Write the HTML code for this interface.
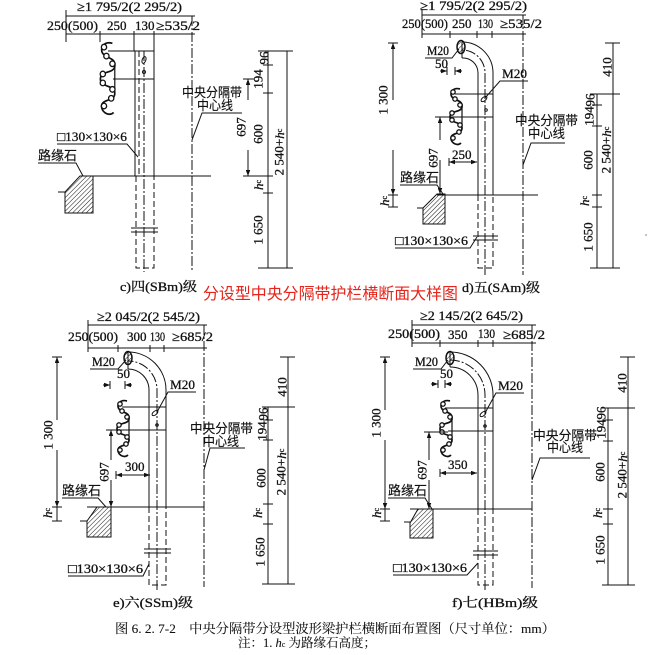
<!DOCTYPE html>
<html><head><meta charset="utf-8">
<style>
html,body{margin:0;padding:0;background:#fff}
svg{display:block}
text{font-family:"Liberation Serif","Noto Serif CJK SC",serif;font-size:13px;fill:#111;stroke:#111;stroke-width:0.3}
.cn{font-family:"Liberation Sans","Noto Sans CJK SC",sans-serif;font-size:13px;stroke-width:0.15}
.cs{font-family:"Liberation Serif","Noto Serif CJK SC",serif;font-size:13px}
.r{text-anchor:middle;dominant-baseline:central}
line,path,polyline,ellipse,circle{stroke:#111;stroke-width:1;fill:none}
.d{stroke-dasharray:6 3}
.c{stroke-dasharray:10 2 2 2}
.hat{fill:url(#h)}
.ar{marker-end:url(#a)}
</style></head><body>
<svg width="667" height="655" viewBox="0 0 667 655" xmlns="http://www.w3.org/2000/svg">
<defs>
<pattern id="h" width="3.2" height="3.2" patternUnits="userSpaceOnUse" patternTransform="rotate(45)">
<line x1="0" y1="0" x2="0" y2="3.2" style="stroke:#111;stroke-width:1"/>
</pattern>
<marker id="a" viewBox="0 0 8 6" refX="8" refY="3" markerWidth="6" markerHeight="4.5" orient="auto" markerUnits="userSpaceOnUse">
<path d="M0,0 L8,3 L0,6 Z" style="fill:#111;stroke:none"/>
</marker>
<g id="rail">
<path vector-effect="non-scaling-stroke" style="stroke-width:1.7" d="M12,1 C5,-1 1,5 4,9 C7,13 15,12 14,19 C13,25 2,22 2,29 C2,36 14,33 14,40 C14,47 2,44 3,51 C4,56 10,58 13,55"/>
<path vector-effect="non-scaling-stroke" style="stroke-width:1.2" d="M14,19 L14,40"/>
<circle vector-effect="non-scaling-stroke" cx="5" cy="4" r="2.2" style="fill:#fff;stroke-width:1.3"/>
<circle vector-effect="non-scaling-stroke" cx="7" cy="11" r="2.2" style="fill:#fff;stroke-width:1.3"/>
<circle vector-effect="non-scaling-stroke" cx="12" cy="17" r="2.2" style="fill:#fff;stroke-width:1.3"/>
<circle vector-effect="non-scaling-stroke" cx="4" cy="25" r="2.2" style="fill:#fff;stroke-width:1.3"/>
<circle vector-effect="non-scaling-stroke" cx="4" cy="32" r="2.2" style="fill:#fff;stroke-width:1.3"/>
<circle vector-effect="non-scaling-stroke" cx="12" cy="37" r="2.2" style="fill:#fff;stroke-width:1.3"/>
<circle vector-effect="non-scaling-stroke" cx="11" cy="44" r="2.2" style="fill:#fff;stroke-width:1.3"/>
<circle vector-effect="non-scaling-stroke" cx="5" cy="50" r="2.2" style="fill:#fff;stroke-width:1.3"/>
</g>
</defs>
<rect width="667" height="655" style="fill:#fff;stroke:none"/>

<!-- ================= Panel c ================= -->
<text x="77" y="11" textLength="105" lengthAdjust="spacingAndGlyphs">≥1 795/2(2 295/2)</text>
<line x1="66" y1="16" x2="192" y2="16"/>
<line x1="66" y1="10" x2="66" y2="42"/>
<text x="47" y="30" textLength="51" lengthAdjust="spacingAndGlyphs">250(500)</text>
<text x="107" y="30">250</text>
<text x="135" y="30">130</text>
<text x="156" y="30" textLength="44" lengthAdjust="spacingAndGlyphs">≥535/2</text>
<line x1="66" y1="34" x2="192" y2="34"/>
<path d="M100,31 V42 M134,31 V51 M154,31 V51 M189,16 H195 M189,34 H195"/>
<!-- post -->
<line x1="135" y1="51" x2="135" y2="176"/><line x1="154" y1="51" x2="154" y2="176"/>
<line x1="108" y1="51" x2="154" y2="51"/><line x1="113" y1="79" x2="154" y2="79"/>
<line class="d" x1="139" y1="51" x2="139" y2="176"/>
<line class="c" x1="144" y1="51" x2="144" y2="272"/>
<ellipse cx="144" cy="60" rx="1.8" ry="3.5" transform="rotate(20 144 60)"/>
<circle cx="144" cy="72" r="1.5"/>
<path class="d" d="M136,176 V268 H154 V176"/>
<path d="M131,228 H158 M131,232 H158"/>
<use href="#rail" transform="translate(98,42) scale(1.2,1.28)"/>
<!-- ground & curb -->
<line x1="82" y1="176" x2="211" y2="176"/>
<path class="hat" d="M65,192 L80,176 L93,176 L93,213 L65,213 Z"/>
<line x1="58" y1="192" x2="65" y2="192"/>
<text class="cn" x="38" y="160">路缘石</text>
<path d="M38,163 H76 L83,176"/>
<text x="57" y="141" textLength="70" lengthAdjust="spacingAndGlyphs">□130×130×6</text>
<path d="M57,144 H127 L138,157"/>
<!-- centerline -->
<line class="c" x1="192" y1="16" x2="192" y2="270"/>
<text class="cn" x="182" y="97" textLength="60" lengthAdjust="spacingAndGlyphs">中央分隔带</text>
<text class="cn" x="197" y="110" textLength="36" lengthAdjust="spacingAndGlyphs">中心线</text>
<path d="M242,113 H202 L192,140"/>
<!-- right dims -->
<line x1="268" y1="51" x2="268" y2="268"/>
<line x1="287" y1="51" x2="287" y2="268"/>
<line class="ar" x1="248" y1="100" x2="248" y2="79"/>
<line class="ar" x1="248" y1="150" x2="248" y2="176"/>
<path d="M258,51 H293 M263,65 H273 M263,93 H273 M243,176 H273 M263,193 H273 M258,268 H293 M243,79 H254"/>
<text class="r" transform="translate(264,58) rotate(-90)">96</text>
<text class="r" transform="translate(258,79) rotate(-90)">194</text>
<text class="r" transform="translate(258,134) rotate(-90)">600</text>
<text class="r" transform="translate(241,127) rotate(-90)">697</text>
<text class="r" transform="translate(258,185) rotate(-90)"><tspan font-style="italic">h</tspan><tspan font-size="8">c</tspan></text>
<text class="r" transform="translate(258,230) rotate(-90)">1 650</text>
<text class="r" transform="translate(279,152) rotate(-90)">2 540+<tspan font-style="italic">h</tspan><tspan font-size="8">c</tspan></text>
<text class="cs" x="120" y="291" textLength="77" lengthAdjust="spacingAndGlyphs">c)四(SBm)级</text>

<!-- red title -->
<text x="203" y="299" textLength="255" lengthAdjust="spacingAndGlyphs" style="font-family:'Liberation Sans','Noto Sans CJK SC',sans-serif;font-size:16px;fill:#e5251c;stroke:none">分设型中央分隔带护栏横断面大样图</text>

<!-- ================= Panel d ================= -->
<text x="420" y="10" textLength="107" lengthAdjust="spacingAndGlyphs">≥1 795/2(2 295/2)</text>
<line x1="422" y1="15" x2="523" y2="15"/>
<line x1="422" y1="9" x2="422" y2="38"/>
<text x="402" y="28" textLength="46" lengthAdjust="spacingAndGlyphs">250(500)</text>
<text x="452" y="28">250</text>
<text x="478" y="28" textLength="15" lengthAdjust="spacingAndGlyphs">130</text>
<text x="500" y="28" textLength="42" lengthAdjust="spacingAndGlyphs">≥535/2</text>
<line x1="422" y1="34" x2="523" y2="34"/>
<path d="M450,31 V38 M477,31 V38 M492,31 V38 M520,15 H526 M520,34 H526"/>
<!-- post with bend -->
<path d="M493,195 L493,73 A31 31 0 0 0 462,42"/>
<path d="M478,195 L478,73 A15 15 0 0 0 462,58"/>
<path class="c" d="M485,275 L485,73 A23 23 0 0 0 462,50"/>
<line x1="462" y1="42" x2="462" y2="58"/>
<ellipse class="hat" cx="461" cy="47" rx="4" ry="6.5" style="stroke-width:1.5"/>
<line x1="455" y1="94" x2="493" y2="94"/><line x1="462" y1="117" x2="493" y2="117"/>
<ellipse cx="484" cy="99" rx="1.8" ry="3.5" transform="rotate(50 484 99)"/>
<circle cx="486" cy="110" r="1.3"/>
<path class="d" d="M478,195 V268 H493 V195"/>
<path d="M473,236 H498 M473,240 H498"/>
<use href="#rail" transform="translate(448,88)"/>
<!-- ground & curb -->
<line x1="437" y1="195" x2="538" y2="195"/>
<path class="hat" d="M423,208 L437,194 L445,194 L445,224 L423,224 Z"/>
<line x1="417" y1="208" x2="423" y2="208"/>
<text class="cn" x="400" y="182">路缘石</text>
<path d="M400,185 H437 L443,194"/>
<!-- left dims -->
<line class="ar" x1="393" y1="100" x2="393" y2="43"/>
<line class="ar" x1="393" y1="150" x2="393" y2="195"/>
<line x1="393" y1="195" x2="393" y2="207"/>
<path d="M388,43 H398 M388,195 H398 M388,207 H398"/>
<text class="r" transform="translate(383,100) rotate(-90)">1 300</text>
<text class="r" transform="translate(384,201) rotate(-90)"><tspan font-style="italic">h</tspan><tspan font-size="8">c</tspan></text>
<line class="ar" x1="440" y1="140" x2="440" y2="117"/>
<line class="ar" x1="440" y1="160" x2="440" y2="194"/>
<path d="M435,117 H462"/>
<text class="r" transform="translate(433,158) rotate(-90)">697</text>
<line class="ar" x1="463" y1="162" x2="449" y2="162"/>
<line class="ar" x1="463" y1="162" x2="477" y2="162"/>
<path d="M449,158 V166"/>
<text x="452" y="159">250</text>
<text x="427" y="55" textLength="22" lengthAdjust="spacingAndGlyphs">M20</text>
<path d="M425,58 H452 L459,49"/>
<text x="435" y="68">50</text>
<path d="M447,67 V75 M455,67 V75"/>
<line class="ar" x1="440" y1="71" x2="447" y2="71"/>
<line class="ar" x1="462" y1="71" x2="455" y2="71"/>
<text x="502" y="78" textLength="25" lengthAdjust="spacingAndGlyphs">M20</text>
<path d="M528,81 H500 L485,98"/>
<text x="395" y="245" textLength="73" lengthAdjust="spacingAndGlyphs">□130×130×6</text>
<path d="M395,248 H470 L477,237"/>
<!-- centerline -->
<line class="c" x1="523" y1="15" x2="523" y2="275"/>
<text class="cn" x="515" y="125" textLength="63" lengthAdjust="spacingAndGlyphs">中央分隔带</text>
<text class="cn" x="528" y="138" textLength="37" lengthAdjust="spacingAndGlyphs">中心线</text>
<path d="M565,143 H531 L523,165"/>
<!-- right dims -->
<line x1="613" y1="43" x2="613" y2="268"/>
<line x1="597" y1="94" x2="597" y2="268"/>
<path d="M605,43 H620 M590,94 H620 M592,105 H602 M592,126 H602 M592,195 H602 M592,207 H602 M590,268 H620"/>
<text class="r" transform="translate(607,67) rotate(-90)">410</text>
<text class="r" transform="translate(590,100) rotate(-90)">96</text>
<text class="r" transform="translate(589,116) rotate(-90)">194</text>
<text class="r" transform="translate(588,160) rotate(-90)">600</text>
<text class="r" transform="translate(606,150) rotate(-90)">2 540+<tspan font-style="italic">h</tspan><tspan font-size="8">c</tspan></text>
<text class="r" transform="translate(584,201) rotate(-90)"><tspan font-style="italic">h</tspan><tspan font-size="8">c</tspan></text>
<text class="r" transform="translate(588,237) rotate(-90)">1 650</text>
<circle cx="646" cy="235" r="0.6" style="fill:#333;stroke:none"/>
<text class="cs" x="462" y="292" textLength="78" lengthAdjust="spacingAndGlyphs">d)五(SAm)级</text>

<!-- ================= Panel e ================= -->
<text x="97" y="321" textLength="103" lengthAdjust="spacingAndGlyphs">≥2 045/2(2 545/2)</text>
<line x1="88" y1="325" x2="204" y2="325"/>
<line x1="88" y1="320" x2="88" y2="352"/>
<text x="68" y="341" textLength="50" lengthAdjust="spacingAndGlyphs">250(500)</text>
<text x="127" y="341">300</text>
<text x="150" y="341" textLength="15" lengthAdjust="spacingAndGlyphs">130</text>
<text x="172" y="341" textLength="41" lengthAdjust="spacingAndGlyphs">≥685/2</text>
<line x1="88" y1="348" x2="204" y2="348"/>
<path d="M118,345 V352 M150,345 V352 M164,345 V352 M201,325 H207 M201,348 H207"/>
<path d="M166,507 L166,390 A38 38 0 0 0 128,352"/>
<path d="M149,507 L149,390 A21 21 0 0 0 128,369"/>
<path class="c" d="M157,590 L157,390 A29 29 0 0 0 128,361"/>
<line x1="128" y1="352" x2="128" y2="369"/>
<ellipse class="hat" cx="128" cy="358" rx="4" ry="6.5" style="stroke-width:1.5"/>
<line x1="122" y1="407" x2="166" y2="407"/><line x1="125" y1="430" x2="166" y2="430"/>
<ellipse cx="155" cy="413" rx="1.8" ry="3.5" transform="rotate(50 155 413)"/>
<circle cx="157" cy="425" r="1.3"/>
<path class="d" d="M149,507 V585 H166 V507"/>
<path d="M144,549 H171 M144,553 H171"/>
<use href="#rail" transform="translate(115,400)"/>
<line x1="87" y1="507" x2="204" y2="507"/>
<path class="hat" d="M87,521 L97,507 L111,507 L111,537 L87,537 Z"/>
<line x1="80" y1="521" x2="87" y2="521"/>
<text class="cn" x="62" y="495">路缘石</text>
<path d="M62,498 H98 L106,507"/>
<line class="ar" x1="57" y1="420" x2="57" y2="357"/>
<line class="ar" x1="57" y1="450" x2="57" y2="507"/>
<line x1="57" y1="507" x2="57" y2="521"/>
<path d="M52,357 H62 M52,507 H62 M52,521 H62"/>
<text class="r" transform="translate(48,435) rotate(-90)">1 300</text>
<text class="r" transform="translate(47,513) rotate(-90)"><tspan font-style="italic">h</tspan><tspan font-size="8">c</tspan></text>
<line class="ar" x1="111" y1="460" x2="111" y2="430"/>
<line class="ar" x1="111" y1="480" x2="111" y2="507"/>
<path d="M106,430 H125"/>
<text class="r" transform="translate(104,472) rotate(-90)">697</text>
<line class="ar" x1="133" y1="475" x2="116" y2="475"/>
<line class="ar" x1="133" y1="475" x2="150" y2="475"/>
<path d="M116,471 V479"/>
<text x="125" y="471">300</text>
<text x="92" y="366" textLength="23" lengthAdjust="spacingAndGlyphs">M20</text>
<path d="M90,369 H118 L126,360"/>
<text x="117" y="378">50</text>
<path d="M110,381 V389 M125,381 V389"/>
<line class="ar" x1="103" y1="385" x2="110" y2="385"/>
<line class="ar" x1="132" y1="385" x2="125" y2="385"/>
<text x="170" y="389" textLength="25" lengthAdjust="spacingAndGlyphs">M20</text>
<path d="M196,392 H168 L157,412"/>
<text x="68" y="573" textLength="75" lengthAdjust="spacingAndGlyphs">□130×130×6</text>
<path d="M68,576 H143 L149,564"/>
<line class="c" x1="204" y1="325" x2="204" y2="587"/>
<text class="cn" x="190" y="433" textLength="63" lengthAdjust="spacingAndGlyphs">中央分隔带</text>
<text class="cn" x="203" y="446" textLength="36" lengthAdjust="spacingAndGlyphs">中心线</text>
<path d="M245,448 H210 L204,470"/>
<line x1="288" y1="357" x2="288" y2="584"/>
<line x1="268" y1="407" x2="268" y2="584"/>
<path d="M280,357 H295 M262,407 H295 M263,420 H273 M263,440 H273 M263,504 H273 M263,524 H273 M262,584 H295"/>
<text class="r" transform="translate(282,387) rotate(-90)">410</text>
<text class="r" transform="translate(263,414) rotate(-90)">96</text>
<text class="r" transform="translate(262,431) rotate(-90)">194</text>
<text class="r" transform="translate(261,478) rotate(-90)">600</text>
<text class="r" transform="translate(281,472) rotate(-90)">2 540+<tspan font-style="italic">h</tspan><tspan font-size="8">c</tspan></text>
<text class="r" transform="translate(257,513) rotate(-90)"><tspan font-style="italic">h</tspan><tspan font-size="8">c</tspan></text>
<text class="r" transform="translate(260,552) rotate(-90)">1 650</text>
<text class="cs" x="113" y="607" textLength="80" lengthAdjust="spacingAndGlyphs">e)六(SSm)级</text>

<!-- ================= Panel f ================= -->
<text x="420" y="320" textLength="103" lengthAdjust="spacingAndGlyphs">≥2 145/2(2 645/2)</text>
<line x1="412" y1="325" x2="533" y2="325"/>
<line x1="412" y1="320" x2="412" y2="347"/>
<text x="388" y="338" textLength="52" lengthAdjust="spacingAndGlyphs">250(500)</text>
<text x="448" y="339">350</text>
<text x="478" y="338" textLength="17" lengthAdjust="spacingAndGlyphs">130</text>
<text x="503" y="339" textLength="42" lengthAdjust="spacingAndGlyphs">≥685/2</text>
<line x1="412" y1="343" x2="533" y2="343"/>
<path d="M440,340 V347 M478,340 V347 M493,340 V347 M530,325 H536 M530,343 H536"/>
<path d="M493,509 L493,395 A43 43 0 0 0 450,352"/>
<path d="M478,509 L478,395 A28 28 0 0 0 450,367"/>
<path class="c" d="M485,590 L485,395 A35 35 0 0 0 450,360"/>
<line x1="450" y1="352" x2="450" y2="367"/>
<ellipse class="hat" cx="450" cy="358" rx="4" ry="6.5" style="stroke-width:1.5"/>
<line x1="445" y1="408" x2="493" y2="408"/><line x1="448" y1="431" x2="493" y2="431"/>
<ellipse cx="483" cy="414" rx="1.8" ry="3.5" transform="rotate(50 483 414)"/>
<circle cx="485" cy="426" r="1.3"/>
<path class="d" d="M478,509 V585 H493 V509"/>
<path d="M473,551 H498 M473,555 H498"/>
<use href="#rail" transform="translate(438,400)"/>
<line x1="410" y1="509" x2="532" y2="509"/>
<path class="hat" d="M410,523 L418,509 L433,509 L433,538 L410,538 Z"/>
<line x1="404" y1="522" x2="410" y2="522"/>
<text class="cn" x="388" y="495">路缘石</text>
<path d="M388,498 H425 L432,509"/>
<line class="ar" x1="385" y1="410" x2="385" y2="357"/>
<line class="ar" x1="385" y1="440" x2="385" y2="509"/>
<line x1="385" y1="509" x2="385" y2="521"/>
<path d="M380,357 H390 M380,509 H390 M380,521 H390"/>
<text class="r" transform="translate(376,423) rotate(-90)">1 300</text>
<text class="r" transform="translate(376,513) rotate(-90)"><tspan font-style="italic">h</tspan><tspan font-size="8">c</tspan></text>
<line class="ar" x1="429" y1="460" x2="429" y2="432"/>
<line class="ar" x1="429" y1="480" x2="429" y2="509"/>
<path d="M424,432 H448"/>
<text class="r" transform="translate(422,470) rotate(-90)">697</text>
<line class="ar" x1="458" y1="473" x2="440" y2="473"/>
<line class="ar" x1="458" y1="473" x2="477" y2="473"/>
<path d="M440,469 V477"/>
<text x="448" y="469">350</text>
<text x="415" y="366" textLength="23" lengthAdjust="spacingAndGlyphs">M20</text>
<path d="M413,369 H441 L448,360"/>
<text x="440" y="378">50</text>
<path d="M438,380 V388 M445,380 V388"/>
<line class="ar" x1="431" y1="384" x2="438" y2="384"/>
<line class="ar" x1="452" y1="384" x2="445" y2="384"/>
<text x="498" y="390" textLength="25" lengthAdjust="spacingAndGlyphs">M20</text>
<path d="M524,393 H496 L485,413"/>
<text x="393" y="572" textLength="74" lengthAdjust="spacingAndGlyphs">□130×130×6</text>
<path d="M393,575 H467 L478,563"/>
<line class="c" x1="532" y1="325" x2="532" y2="588"/>
<text class="cn" x="533" y="440" textLength="64" lengthAdjust="spacingAndGlyphs">中央分隔带</text>
<text class="cn" x="547" y="452" textLength="36" lengthAdjust="spacingAndGlyphs">中心线</text>
<path d="M590,458 H540 L532,480"/>
<line x1="628" y1="357" x2="628" y2="585"/>
<line x1="608" y1="408" x2="608" y2="585"/>
<path d="M620,357 H635 M602,408 H635 M603,420 H613 M603,441 H613 M603,509 H613 M603,524 H613 M602,585 H635"/>
<text class="r" transform="translate(622,383) rotate(-90)">410</text>
<text class="r" transform="translate(601,413) rotate(-90)">96</text>
<text class="r" transform="translate(601,429) rotate(-90)">194</text>
<text class="r" transform="translate(600,472) rotate(-90)">600</text>
<text class="r" transform="translate(622,475) rotate(-90)">2 540+<tspan font-style="italic">h</tspan><tspan font-size="8">c</tspan></text>
<text class="r" transform="translate(597,513) rotate(-90)"><tspan font-style="italic">h</tspan><tspan font-size="8">c</tspan></text>
<text class="r" transform="translate(600,550) rotate(-90)">1 650</text>
<text class="cs" x="452" y="607" textLength="86" lengthAdjust="spacingAndGlyphs">f)七(HBm)级</text>

<!-- bottom caption -->
<text class="cs" x="115" y="633" textLength="440" lengthAdjust="spacingAndGlyphs" style="font-size:13px;stroke-width:0.1">图 6. 2. 7-2　中央分隔带分设型波形梁护栏横断面布置图（尺寸单位：mm）</text>
<text class="cs" x="238" y="647" style="font-size:12.5px;stroke-width:0.1">注：1. <tspan font-style="italic">h</tspan><tspan font-size="8">c</tspan> 为路缘石高度；</text>
</svg>
</body></html>
